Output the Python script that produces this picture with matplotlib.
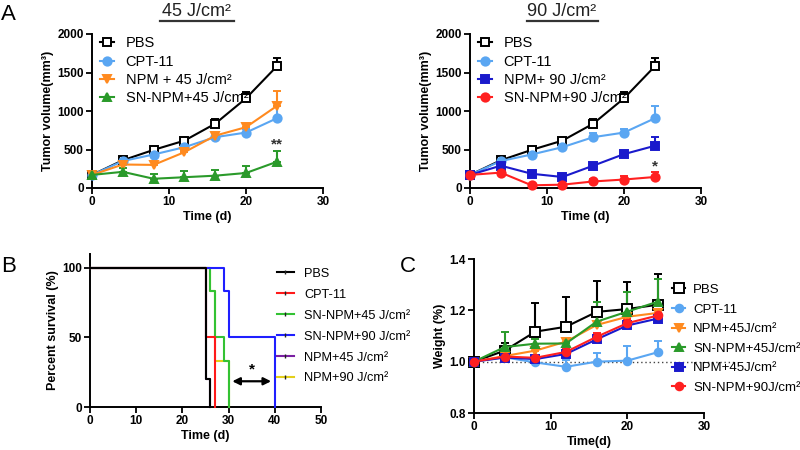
import matplotlib
matplotlib.use('Agg')
import matplotlib.pyplot as plt
from matplotlib.lines import Line2D
import numpy as np

plt.rcParams['font.family'] = ['Liberation Sans', 'DejaVu Sans']

# ---------------- data ----------------
days = [0, 4, 8, 12, 16, 20, 24]
pbs_vol = [170, 360, 495, 615, 835, 1165, 1580]
pbs_err = [30, 40, 40, 40, 60, 80, 110]
cpt_vol = [170, 350, 435, 530, 660, 720, 905]
cpt_err = [20, 30, 30, 30, 60, 50, 160]
npm45_vol = [170, 305, 300, 465, 680, 790, 1065]
npm45_err = [20, 30, 40, 30, 40, 40, 190]
sn45_vol = [170, 210, 120, 140, 160, 195, 340]
sn45_err = [20, 55, 60, 80, 70, 90, 145]
npm90_vol = [170, 290, 185, 143, 290, 440, 548]
npm90_err = [20, 30, 30, 40, 30, 30, 110]
sn90_vol = [170, 200, 35, 43, 85, 110, 143]
sn90_err = [20, 20, 10, 10, 30, 45, 65]

# survival (step curves)
surv_pbs_t, surv_pbs = [0, 25, 26], [100, 20, 0]
surv_cpt_t, surv_cpt = [0, 25, 27], [100, 50, 0]
surv_sn45_t, surv_sn45 = [0, 26, 27, 29, 30], [100, 83.3, 50, 33.3, 0]
surv_sn90_t, surv_sn90 = [0, 29, 30, 40], [100, 83.3, 50, 0]
surv_npm45_t, surv_npm45 = [0, 25, 26], [100, 20, 0]
surv_npm90_t, surv_npm90 = [0, 26, 27, 30], [100, 83.3, 33.3, 0]

# body weight
w_pbs = [1.0, 1.043, 1.117, 1.136, 1.194, 1.205, 1.222]
w_pbs_err = [0, 0.028, 0.113, 0.115, 0.119, 0.107, 0.119]
w_cpt = [1.0, 1.017, 0.997, 0.98, 1.0, 1.004, 1.037]
w_cpt_err = [0, 0.005, 0.012, 0.026, 0.032, 0.056, 0.043]
w_npm45 = [1.0, 1.022, 1.043, 1.078, 1.143, 1.175, 1.19]
w_npm45_err = [0, 0.005, 0.01, 0.01, 0.03, 0.01, 0.02]
w_sn45 = [1.0, 1.057, 1.07, 1.071, 1.156, 1.195, 1.234]
w_sn45_err = [0, 0.06, 0.02, 0.02, 0.078, 0.075, 0.09]
w_npm45b = [1.0, 1.016, 1.01, 1.03, 1.087, 1.141, 1.168]
w_npm45b_err = [0, 0.005, 0.005, 0.01, 0.015, 0.01, 0.01]
w_sn90 = [1.0, 1.02, 1.015, 1.038, 1.097, 1.15, 1.18]
w_sn90_err = [0, 0.005, 0.005, 0.01, 0.015, 0.015, 0.04]

C_PBS = 'black'
C_CPT = '#5aa6f2'
C_NPM45 = '#ff8a1f'
C_SN45 = '#2a9a2a'
C_NPM90 = '#1a1acc'
C_SN90 = '#ff2020'

TICK_FS = 8.5
LABEL_FS = 9

fig = plt.figure(figsize=(8, 4.5), dpi=100)
W, H = 800, 450


def add_ax(x0, x1, ytop, ybot):
    return fig.add_axes([x0 / W, 1 - ybot / H, (x1 - x0) / W, (ybot - ytop) / H])


def style(ax):
    for s in ['top', 'right']:
        ax.spines[s].set_visible(False)
    for s in ['left', 'bottom']:
        ax.spines[s].set_linewidth(1.4)
    ax.tick_params(width=1.3, length=4, labelsize=TICK_FS, pad=2)
    for lab in ax.get_xticklabels() + ax.get_yticklabels():
        lab.set_fontweight('bold')


def series(ax, x, y, err, color, marker, label, mfc=None, ms=6, lw=1.5):
    mfc = color if mfc is None else mfc
    ax.errorbar(x, y, yerr=[np.zeros(len(err)), err], color=color, marker=marker,
                ms=ms, mfc=mfc, mec=color, mew=1.4, lw=lw, capsize=3,
                elinewidth=1.5, capthick=1.5, clip_on=False, zorder=3)
    return Line2D([0], [0], color=color, marker=marker, ms=ms, mfc=mfc, mec=color,
                  mew=1.4, lw=lw, label=label)


def tumor_panel(ax, groups, star_text, star_y):
    handles = [series(ax, days, *g) for g in groups]
    ax.set_xlim(0, 30)
    ax.set_ylim(0, 2000)
    ax.set_xticks([0, 10, 20, 30])
    ax.set_yticks([0, 500, 1000, 1500, 2000])
    ax.set_xlabel('Time (d)', fontsize=LABEL_FS, fontweight='bold', labelpad=2)
    ax.set_ylabel('Tumor volume(mm³)', fontsize=LABEL_FS, fontweight='bold', labelpad=2)
    style(ax)
    ax.text(24, star_y, star_text, ha='center', va='center', fontsize=11, fontweight='bold',
            color='#333333')
    ax.legend(handles=handles, loc='upper left', bbox_to_anchor=(0.035, 0.985), frameon=False,
              fontsize=10.5, borderpad=0, handlelength=0.95, handletextpad=0.8,
              labelspacing=0.3, borderaxespad=0)


# ---------------- Panel A left ----------------
axA1 = add_ax(92, 323, 34, 188)
tumor_panel(axA1, [
    (pbs_vol, pbs_err, C_PBS, 's', 'PBS', 'white'),
    (cpt_vol, cpt_err, C_CPT, 'o', 'CPT-11'),
    (npm45_vol, npm45_err, C_NPM45, 'v', 'NPM + 45 J/cm²'),
    (sn45_vol, sn45_err, C_SN45, '^', 'SN-NPM+45 J/cm²'),
], '**', 565)

# ---------------- Panel A right ----------------
axA2 = add_ax(470, 701, 34, 188)
tumor_panel(axA2, [
    (pbs_vol, pbs_err, C_PBS, 's', 'PBS', 'white'),
    (cpt_vol, cpt_err, C_CPT, 'o', 'CPT-11'),
    (npm90_vol, npm90_err, C_NPM90, 's', 'NPM+ 90 J/cm²'),
    (sn90_vol, sn90_err, C_SN90, 'o', 'SN-NPM+90 J/cm²'),
], '*', 280)

# ---------------- Panel B ----------------
axB = add_ax(90, 321, 254, 407)
surv = [
    (surv_npm45_t, surv_npm45, '#7a1fa2'),
    (surv_npm90_t, surv_npm90, '#e3cf1a'),
    (surv_sn45_t, surv_sn45, '#33c233'),
    (surv_sn90_t, surv_sn90, '#1f1fff'),
    (surv_cpt_t, surv_cpt, '#ff1a1a'),
    (surv_pbs_t, surv_pbs, 'black'),
]
for t, s, c in surv:
    axB.step(t, s, where='post', color=c, lw=1.5, clip_on=False, zorder=3)
axB.set_xlim(0, 50)
axB.set_ylim(0, 110)
axB.set_xticks([0, 10, 20, 30, 40, 50])
axB.set_yticks([0, 50, 100])
axB.set_xlabel('Time (d)', fontsize=LABEL_FS, fontweight='bold', labelpad=2)
axB.set_ylabel('Percent survival (%)', fontsize=LABEL_FS, fontweight='bold', labelpad=2)
style(axB)
axB.annotate('', xy=(30.8, 18.5), xytext=(39.2, 18.5),
             arrowprops=dict(arrowstyle='<|-|>', color='black', lw=1.6,
                             mutation_scale=11, shrinkA=0, shrinkB=0))
axB.text(35, 27, '*', ha='center', va='center', fontsize=11, fontweight='bold')
b_labels = ['PBS', 'CPT-11', 'SN-NPM+45 J/cm²', 'SN-NPM+90 J/cm²', 'NPM+45 J/cm²', 'NPM+90 J/cm²']
b_colors = ['black', '#ff1a1a', '#33c233', '#1f1fff', '#7a1fa2', '#e3cf1a']
b_handles = [Line2D([0], [0], color=c, lw=1.5, marker='|', ms=3, mec='#222222', mew=1.0)
             for c in b_colors]
axB.legend(b_handles, b_labels, loc='upper left', bbox_to_anchor=(0.81, 0.91),
           frameon=False, fontsize=9.2, borderpad=0, handlelength=1.3,
           handletextpad=0.8, labelspacing=0.7, borderaxespad=0)

# ---------------- Panel C ----------------
axC = add_ax(474, 704, 259, 413)
axC.plot([0, 34], [1.0, 1.0], ls=(0, (1, 2)), color='#444444', lw=1.0, clip_on=False, zorder=1)
wc = [
    (w_pbs, w_pbs_err, C_PBS, 's', 'PBS', 'white', 7),
    (w_cpt, w_cpt_err, C_CPT, 'o', 'CPT-11', None, 5.5),
    (w_npm45, w_npm45_err, C_NPM45, 'v', 'NPM+45J/cm²', None, 5.5),
    (w_sn45, w_sn45_err, C_SN45, '^', 'SN-NPM+45J/cm²', None, 5.5),
    (w_npm45b, w_npm45b_err, C_NPM90, 's', 'NPM+45J/cm²', None, 5.5),
    (w_sn90, w_sn90_err, C_SN90, 'o', 'SN-NPM+90J/cm²', None, 5.5),
]
c_handles = [series(axC, days, y, e, c, m, lab, mfc=mfc, ms=ms)
             for y, e, c, m, lab, mfc, ms in wc]
axC.set_xlim(0, 30)
axC.set_ylim(0.8, 1.4)
axC.set_xticks([0, 10, 20, 30])
axC.set_yticks([0.8, 1.0, 1.2, 1.4])
axC.set_yticklabels(['0.8', '1.0', '1.2', '1.4'])
axC.set_xlabel('Time(d)', fontsize=LABEL_FS, fontweight='bold', labelpad=2)
axC.set_ylabel('Weight (%)', fontsize=LABEL_FS, fontweight='bold', labelpad=2)
style(axC)
axC.legend(handles=c_handles, loc='upper left', bbox_to_anchor=(0.861, 0.84), frameon=False,
           fontsize=9.5, borderpad=0, handlelength=1.0, handletextpad=0.6,
           labelspacing=0.56, borderaxespad=0)

# ---------------- titles / panel letters ----------------
fig.text(197 / W, 1 - 12 / H, '45 J/cm²', ha='center', va='center', fontsize=13, color='#222222')
fig.text(562 / W, 1 - 12 / H, '90 J/cm²', ha='center', va='center', fontsize=13, color='#222222')
fig.add_artist(Line2D([160 / W, 234 / W], [1 - 20.5 / H, 1 - 20.5 / H], color='#333333', lw=1.6))
fig.add_artist(Line2D([527 / W, 598 / W], [1 - 20.5 / H, 1 - 20.5 / H], color='#333333', lw=1.6))
fig.text(1 / W, 1 - 15 / H, 'A', ha='left', va='center', fontsize=16)
fig.text(1 / W, 1 - 267 / H, 'B', ha='left', va='center', fontsize=16)
fig.text(400 / W, 1 - 266 / H, 'C', ha='left', va='center', fontsize=16)

fig.savefig('out.png', dpi=100)
